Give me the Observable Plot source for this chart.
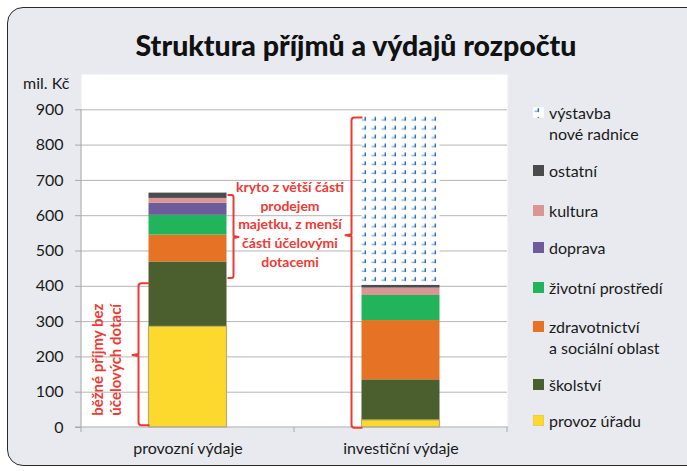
<!DOCTYPE html>
<html>
<head>
<meta charset="utf-8">
<script src="https://cdn.jsdelivr.net/npm/d3@7"></script>
<script src="https://cdn.jsdelivr.net/npm/@observablehq/plot@0.6"></script>
<style>
  html, body { margin: 0; padding: 0; background: #fff; }
  #page { position: relative; width: 687px; height: 471px; overflow: hidden; font-family: Lato, "Open Sans", sans-serif; color: #1a1a1a; }
  #box { position: absolute; left: 7px; top: 7px; width: 700px; height: 459px; box-sizing: border-box; border: 1.5px solid #2b2b2b; border-radius: 16px; background: #e8eaf0; }
  #title { position: absolute; left: 7px; top: 27px; width: 698px; text-align: center; font-weight: 900; font-size: 28.5px; line-height: 36px; color: #111; }
  #chart { position: absolute; left: 0; top: 0; }
  #unit { position: absolute; left: 23px; top: 73px; font-size: 16px; line-height: 20px; }
  #legend { position: absolute; left: 533px; top: 102px; font-size: 16px; line-height: 21px; }
  .item { display: flex; align-items: flex-start; }
  .sw { width: 11px; height: 11px; margin-top: 5px; margin-right: 5px; flex: none; display: block; }
  .lab { white-space: pre-line; }
</style>
</head>
<body>
<div id="page">
  <div id="box"></div>
  <div id="title">Struktura příjmů a výdajů rozpočtu</div>
  <div id="chart"></div>
  <div id="unit">mil. Kč</div>
  <div id="legend"></div>
</div>
<script>
// ---- data ----
const categories = ["provozní výdaje", "investiční výdaje"];
const seriesNames = ["provoz úřadu", "školství", "zdravotnictví a sociální oblast", "životní prostředí", "doprava", "kultura", "ostatní", "výstavba nové radnice"];
const legendLabels = ["provoz úřadu", "školství", "zdravotnictví\na sociální oblast", "životní prostředí", "doprava", "kultura", "ostatní", "výstavba\nnové radnice"];
const provozUradu = [285, 20];
const skolstvi = [184, 115];
const zdravotnictvi = [76, 168];
const zivotniProstredi = [56, 71];
const doprava = [34, 0];
const kultura = [14, 21];
const ostatni = [15, 8];
const vystavbaRadnice = [0, 478];
const yTicks = [0, 100, 200, 300, 400, 500, 600, 700, 800, 900];

// annotations (values in mil. Kč)
const bracketCategory = ["provozní výdaje", "provozní výdaje", "investiční výdaje"];
const bracketFrom = [5, 422, -2];
const bracketTo = [407, 657, 877];
const bracketPoint = [204, 538, 543];
const bracketSide = ["left", "right", "left"];
const noteCategory = ["provozní výdaje", "provozní výdaje"];
const noteValue = [192, 578];
const noteText = ["běžné příjmy bez\núčelových dotací", "kryto z větší části\nprodejem\nmajetku, z menší\nčásti účelovými\ndotacemi"];

// ---- styles ----
const colors = ["#fdd92e", "#4b5e2e", "#e67325", "#22b45a", "#6e5b9b", "#d99694", "#4b4b4d", "url(#dots)"];
const red = "#ee3a35";
// gap above each legend entry (top to bottom)
const legendGaps = [0, 16, 19, 16, 19, 18, 16, 15];

const seriesValues = [provozUradu, skolstvi, zdravotnictvi, zivotniProstredi, doprava, kultura, ostatni, vystavbaRadnice];
const table = [];
seriesNames.forEach((s, i) => categories.forEach((c, j) => table.push({category: c, series: s, value: seriesValues[i][j]})));

const brackets = bracketCategory.map((c, i) => ({category: c, from: bracketFrom[i], to: bracketTo[i], point: bracketPoint[i], side: bracketSide[i]}));

function decorations(index, scales) {
  const x = scales.x, y = scales.y;
  const bw = typeof x.bandwidth === "function" ? x.bandwidth() : x.bandwidth;
  const g = d3.create("svg:g");
  const x0 = x(categories[0]);
  const x1 = x(categories[categories.length - 1]) + bw;
  const y0 = y(0);
  g.append("line").attr("x1", x0).attr("x2", x0).attr("y1", y(900)).attr("y2", y0).attr("stroke", "#a9a9a9");
  g.append("line").attr("x1", x0 - 6).attr("x2", x1 + 1).attr("y1", y0).attr("y2", y0).attr("stroke", "#a9a9a9");
  const bounds = [x0, ...categories.map(c => x(c) + bw)];
  for (const b of bounds) g.append("line").attr("x1", b).attr("x2", b).attr("y1", y0).attr("y2", y0 + 5).attr("stroke", "#a9a9a9");
  for (const br of brackets) {
    const cx = x(br.category) + bw / 2;
    const yt = y(br.to), yb = y(br.from), ym = y(br.point);
    let d;
    if (br.side === "left") {
      const xv = cx - 49;
      d = `M${xv + 11},${yt} H${xv + 3} Q${xv},${yt} ${xv},${yt + 3} V${ym - 1} L${xv - 6},${ym} L${xv},${ym + 1} V${yb - 3} Q${xv},${yb} ${xv + 3},${yb} H${xv + 11}`;
    } else {
      const xv = cx + 46;
      d = `M${xv - 6},${yt} H${xv - 2} Q${xv},${yt} ${xv},${yt + 2} V${ym - 1} L${xv + 5},${ym} L${xv},${ym + 1} V${yb - 2} Q${xv},${yb} ${xv - 2},${yb} H${xv - 6}`;
    }
    g.append("path").attr("d", d).attr("fill", "none").attr("stroke", red).attr("stroke-width", 2).attr("stroke-linejoin", "round");
  }
  return g.node();
}

const chart = Plot.plot({
  width: 687,
  height: 471,
  marginLeft: 81,
  marginRight: 180,
  marginTop: 74,
  marginBottom: 44,
  style: {background: "transparent", fontFamily: "Lato, 'Open Sans', sans-serif", color: "#1a1a1a", overflow: "visible"},
  x: {domain: categories, padding: 0, label: null},
  y: {domain: [0, 1000], label: null},
  color: {domain: seriesNames, range: colors},
  marks: [
    Plot.frame({fill: "white", stroke: "none"}),
    Plot.gridY(yTicks.filter(t => t > 0), {stroke: "#b5b5b5", strokeOpacity: 1}),
    Plot.barY(table, {x: "category", y: "value", z: "series", fill: "series", order: seriesNames, insetLeft: 67.5, insetRight: 67.5}),
    Plot.barY(table.filter(d => d.series === seriesNames[0]), {x: "category", y: "value", fill: "none", stroke: "#b8ad6c", strokeWidth: 1.2, insetLeft: 67.5, insetRight: 67.5}),
    Plot.axisY({ticks: yTicks, tickSize: 6, tickPadding: 12, stroke: "#a9a9a9", fontSize: 16, label: null}),
    Plot.axisX({tickSize: 0, tickPadding: 15, fontSize: 16, label: null}),
    decorations,
    Plot.text([0], {x: () => noteCategory[0], y: () => noteValue[0], text: () => noteText[0], rotate: -90, dx: -82, fill: red, fontWeight: "bold", fontSize: 15, lineHeight: 1.22}),
    Plot.text([1], {x: () => noteCategory[1], y: () => noteValue[1], text: () => noteText[1], dx: 102, fill: red, fontWeight: "bold", fontSize: 14, lineHeight: 1.33})
  ]
});

const svgNode = chart.tagName.toLowerCase() === "svg" ? chart : chart.querySelector("svg");
const defs = d3.select(svgNode).insert("defs", ":first-child");
const pat = defs.append("pattern").attr("id", "dots").attr("patternUnits", "userSpaceOnUse").attr("width", 10).attr("height", 8.9);
pat.append("rect").attr("width", 10).attr("height", 8.9).attr("fill", "white");
pat.append("path").attr("d", "M1.5,4.3 H5.5").attr("stroke", "#8db5e3").attr("stroke-width", 1.5);
pat.append("path").attr("d", "M5.3,1.2 V5").attr("stroke", "#2e6fba").attr("stroke-width", 1.5);
document.getElementById("chart").appendChild(chart);

const legend = document.getElementById("legend");
for (let k = 0, i = seriesNames.length - 1; i >= 0; i--, k++) {
  const item = document.createElement("div");
  item.className = "item";
  item.style.marginTop = legendGaps[k] + "px";
  item.innerHTML = `<svg class="sw" width="11" height="11"><rect width="11" height="11" fill="${colors[i]}"${i === 0 ? ' stroke="#d9c45a" stroke-width="1"' : ''}/></svg><span class="lab"></span>`;
  item.querySelector(".lab").textContent = legendLabels[i];
  legend.appendChild(item);
}
</script>
</body>
</html>
